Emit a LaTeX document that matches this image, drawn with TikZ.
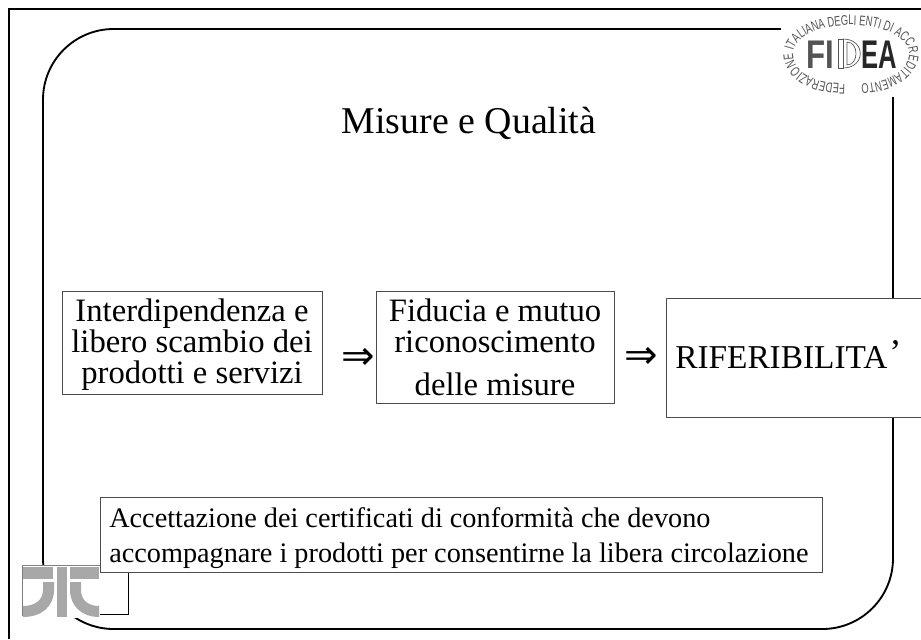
\documentclass[tikz,border=0pt]{standalone}
\usepackage{fontspec}
\setmainfont{Liberation Serif}
\newfontfamily\fiFont[FakeStretch=0.78]{Liberation Sans}
\newfontfamily\eaFont[FakeStretch=0.64]{Liberation Sans}
\newfontfamily\ringfont[FakeStretch=0.67]{Liberation Sans}
\newfontfamily\symfont{DejaVu Sans}
\usetikzlibrary{decorations.text}
\definecolor{jitgray}{gray}{0.66}
\definecolor{fideagray}{gray}{0.33}
\tikzset{
  px/.style={x=0.75pt,y=-0.75pt},
  frame/.style={draw=black,line width=1.8pt},
  inner/.style={draw=black,line width=1.4pt},
  txtbox/.style={draw=black!70,line width=0.7pt,fill=white,inner sep=0pt},
  bodyline/.style={font=\fontsize{24.5}{25}\selectfont,inner sep=0pt,anchor=base},
  smallline/.style={font=\fontsize{21.2}{22}\selectfont,inner sep=0pt,anchor=base west},
  arrowsym/.style={font=\symfont\fontsize{30}{31}\selectfont,inner sep=0pt,anchor=center},
  jitbar/.style={fill=jitgray,draw=none},
  fidealetters/.style={inner sep=0pt,anchor=base west}
}
\begin{document}
\begin{tikzpicture}[px]
\useasboundingbox (0,0) rectangle (921,639);
\fill[white] (0,0) rectangle (921,639);
\draw[frame] (921,9) -- (9,9) -- (9,639);
\draw[inner,rounded corners=53pt] (400,29) -- (893,29) -- (893,629) -- (43,629) -- (43,29) -- cycle;
% JIT logo
\draw[draw=black,line width=0.7pt] (22,565) rectangle (128,614.5);
\fill[white] (22,565) rectangle (100,618);
\draw[black!50,line width=0.4pt] (22,565) -- (100,565);
\draw[black!50,line width=0.4pt] (22,565) -- (22,616);
\fill[jitbar] (23,567) rectangle (53,579);
\fill[jitbar] (57,567) rectangle (67,617);
\fill[jitbar] (70,567) rectangle (99,579);
\fill[jitbar] (43,582) -- (54,582) -- (54,590) .. controls (54,606) and (42,617) .. (23,617) -- (23,606) .. controls (35,606) and (43,600) .. (43,590) -- cycle;
\fill[jitbar] (70,582) -- (81,582) -- (81,590) .. controls (81,600) and (88,606) .. (99,606) -- (99,617) .. controls (82,617) and (70,606) .. (70,590) -- cycle;
% FIDEA logo
\fill[white] (781,10.5) rectangle (921,97);
\node[fidealetters,text=fideagray,font=\fiFont\bfseries\fontsize{30}{30}\selectfont] (fi) at (806,68) {FI};
\node[fidealetters,text=black!85,font=\eaFont\bfseries\fontsize{30}{30}\selectfont] (ea) at (861,68) {EA};
\draw[fideagray,line width=0.5pt] (838,39) rectangle (843,68);
\draw[fideagray,line width=0.5pt] (843,39) .. controls (866,39) and (866,68) .. (843,68);
\draw[fideagray,line width=0.5pt] (847,42) .. controls (859,42) and (859,65) .. (847,65) -- cycle;
\path[decorate,decoration={text along path,text align=left,
  text={|\ringfont\fontsize{10.5}{11}\selectfont\color{fideagray}|FEDERAZIONE ITALIANA DEGLI ENTI DI ACCREDITAMENTO}}]
  (845,84) .. controls (811,84) and (793,70) .. (793,54) .. controls (793,38) and (819,25) .. (851,25)
  .. controls (883,25) and (909,38) .. (909,54) .. controls (909,70) and (888,84) .. (858,84);
% Title
\node[font=\fontsize{28.4}{30}\selectfont,inner sep=0pt,anchor=base] (title) at (469,133) {Misure e Qualità};
% Boxes
\draw[txtbox] (62,291) rectangle (322,394);
\node[bodyline] (b1a) at (192,321) {Interdipendenza e};
\node[bodyline] (b1b) at (192,352) {libero scambio dei};
\node[bodyline] (b1c) at (192,383) {prodotti e servizi};
\draw[txtbox] (376,291) rectangle (614,403);
\node[bodyline] (b2a) at (495,321) {Fiducia e mutuo};
\node[bodyline] (b2b) at (495,352) {riconoscimento};
\node[bodyline] (b2c) at (495,395) {delle misure};
\draw[txtbox] (666,298) rectangle (925,417);
\node[bodyline,anchor=base west,font=\fontsize{25}{25}\selectfont] (b3t) at (675,368) {RIFERIBILITA\kern1.5pt\raisebox{3pt}{\fontsize{27}{27}\selectfont’}};
\draw[txtbox] (100,497) rectangle (822,572);
\node[smallline] (b4a) at (109,527) {Accettazione dei certificati di conformità che devono};
\node[smallline] (b4b) at (109,562) {accompagnare i prodotti per consentirne la libera circolazione};
\node[arrowsym] (a1) at (358.5,359) {⇒};
\node[arrowsym] (a2) at (641.5,357.5) {⇒};
\end{tikzpicture}
\end{document}
